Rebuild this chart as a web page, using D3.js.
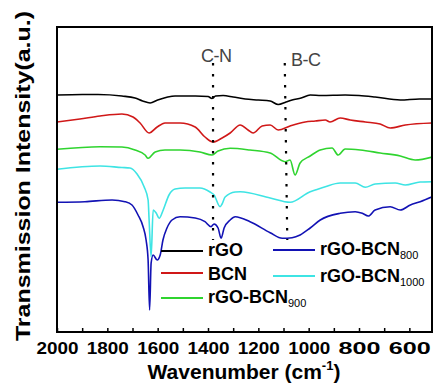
<!DOCTYPE html>
<html>
<head>
  <meta charset="utf-8">
  <script src="https://d3js.org/d3.v7.min.js"></script>
  <style>
    body { margin: 0; background: #fff; }
    text { font-family: "Liberation Sans", Arial, sans-serif; }
  </style>
</head>
<body>
  <svg width="435" height="392" id="mainsvg"></svg>
  <script>
    // [wavenumber, transmission (a.u.)]
    const rGO = [[2000,237],[1900,237.5],[1837,237.5],[1742,236],[1690,234],[1660,231],[1630,229],[1600,232],[1560,235],[1531,236],[1450,236],[1400,235.5],[1384,233.5],[1370,236],[1340,236.5],[1300,235],[1252,233],[1200,232],[1153,231],[1121,227.5],[1090,230],[1066,232],[1030,234],[994,237],[950,236.5],[855,237],[800,236.5],[736,235],[636,232],[560,233],[509,233]];
    const BCN = [[2000,210],[1909,213],[1829,216],[1742,218],[1698,215],[1670,209],[1634,199],[1602,205],[1571,209],[1511,209],[1451,205],[1412,195],[1380,190],[1344,194],[1312,199],[1272,207],[1241,202],[1221,199],[1185,206],[1153,207],[1121,202],[1074,206],[1014,210],[974,211],[934,212],[915,210],[875,214],[835,212],[775,210],[716,208],[676,204],[616,207],[509,209]];
    const BCN900 = [[2000,182.7],[1829,185.3],[1742,185],[1690,182],[1650,177],[1638,173.7],[1610,180],[1571,182],[1511,182],[1432,180],[1384,177],[1360,181],[1312,183.7],[1233,182],[1153,179],[1094,170.3],[1074,172],[1054,157],[1034,169],[994,176],[954,182],[907,184],[883,177],[855,183],[795,182],[716,179],[636,176],[577,172],[509,175]];
    const BCN1000 = [[2000,162.7],[1829,166],[1742,164.5],[1710,164],[1682,158],[1654,145.3],[1638,132],[1634,112],[1626,75.3],[1618,122],[1606,119],[1594,113.7],[1578,122],[1555,137],[1531,143],[1491,144],[1432,144],[1392,140],[1376,137],[1352,125.3],[1344,128],[1332,135],[1292,140],[1272,140.3],[1153,134],[1074,129.7],[994,140.3],[974,142],[934,145.3],[875,149],[815,149],[775,144.7],[736,148],[656,149],[616,147],[557,150],[509,150.3]];
    const BCN800 = [[2000,129.7],[1889,130.3],[1781,132],[1730,130.3],[1702,127],[1678,117],[1658,105.3],[1646,92],[1638,72],[1632,22],[1626,69],[1618,77],[1602,72],[1590,77],[1579,92],[1563,104],[1543,112],[1511,115.3],[1451,114],[1412,110.3],[1388,105.3],[1376,108],[1360,104],[1348,93.7],[1336,104],[1312,112],[1292,115.3],[1233,110.3],[1153,99.3],[1105,93.7],[1066,94.3],[1034,97],[994,104],[954,112],[875,118.7],[815,120.3],[787,118.7],[763,116],[736,122],[676,125.3],[636,122],[596,127],[557,130.3],[509,135.3]];

    const seriesNames = ['rGO', 'BCN', 'rGO-BCN900', 'rGO-BCN800', 'rGO-BCN1000'];
    const xTicks = [2000, 1800, 1600, 1400, 1200, 1000, 800, 600];
    // dotted guide lines: [label, wavenumber top, wavenumber bottom]
    const guides = [['C-N', 1380, 1380], ['B-C', 1095, 1085]];

    const svg = d3.select('#mainsvg');
    const x = d3.scaleLinear().domain([2000, 510]).range([57, 432]);
    const y = d3.scaleLinear().domain([0, 305]).range([332, 27]);

    const series = [
      { name: 'rGO', data: rGO, color: '#000000' },
      { name: 'BCN', data: BCN, color: '#d01818' },
      { name: 'rGO-BCN900', data: BCN900, color: '#2fd42f' },
      { name: 'rGO-BCN800', data: BCN800, color: '#1212b4' },
      { name: 'rGO-BCN1000', data: BCN1000, color: '#3ee4e4' }
    ];

    const line = d3.line()
      .x(d => x(d[0]))
      .y(d => y(d[1]))
      .curve(d3.curveMonotoneX);

    svg.append('clipPath').attr('id', 'clip')
      .append('rect').attr('x', 57).attr('y', 27).attr('width', 375).attr('height', 305);

    const plot = svg.append('g').attr('clip-path', 'url(#clip)');
    series.forEach(s => {
      plot.append('path')
        .attr('d', line(s.data))
        .attr('fill', 'none')
        .attr('stroke', s.color)
        .attr('stroke-width', 1.6);
    });

    // dotted guides
    guides.forEach(g => {
      svg.append('line')
        .attr('x1', x(g[1])).attr('y1', y(269))
        .attr('x2', x(g[2])).attr('y2', y(92))
        .attr('stroke', '#000')
        .attr('stroke-width', 2.2)
        .attr('stroke-dasharray', '2.5,8.5');
    });
    svg.append('text').text('C-N')
      .attr('x', 201).attr('y', 62)
      .attr('font-size', 18).attr('fill', '#444')
      .attr('letter-spacing', -0.5);
    svg.append('text').text('B-C')
      .attr('x', 291).attr('y', 66)
      .attr('font-size', 18).attr('fill', '#444')
      .attr('letter-spacing', -0.5);

    // x axis (ticks inward)
    const xAxis = d3.axisBottom(x)
      .tickValues(d3.range(2000, 509, -100))
      .tickSize(-4)
      .tickSizeOuter(0)
      .tickFormat(d => xTicks.includes(d) ? d : '');
    const ax = svg.append('g').attr('transform', 'translate(0,332)').call(xAxis);
    ax.select('.domain').remove();
    ax.selectAll('line').attr('stroke', '#000').attr('stroke-width', 1.5);
    ax.selectAll('text')
      .attr('y', 22)
      .attr('dy', 0)
      .attr('fill', '#000')
      .attr('font-size', 17)
      .attr('font-weight', 'bold')
      .attr('font-family', '"Liberation Sans", Arial, sans-serif')
      .each(function (d) { if (xTicks.includes(d)) d3.select(this).attr('textLength', 42).attr('lengthAdjust', 'spacingAndGlyphs'); });

    // frame
    svg.append('rect')
      .attr('x', 57).attr('y', 27).attr('width', 375).attr('height', 305)
      .attr('fill', 'none').attr('stroke', '#000').attr('stroke-width', 2);

    // axis titles
    const xl = svg.append('text')
      .attr('x', 244).attr('y', 379)
      .attr('text-anchor', 'middle')
      .attr('font-size', 21).attr('font-weight', 'bold');
    xl.append('tspan').text('Wavenumber (cm');
    xl.append('tspan').text('-1').attr('font-size', 13).attr('dy', -9);
    xl.append('tspan').text(')').attr('dy', 9);

    svg.append('text')
      .text('Transmission Intensity(a.u.)')
      .attr('transform', 'translate(30,176) rotate(-90)')
      .attr('text-anchor', 'middle')
      .attr('font-size', 21).attr('font-weight', 'bold')
      .attr('textLength', 330).attr('lengthAdjust', 'spacingAndGlyphs');

    // legend
    const legendPos = [
      { lx: 161, ly: 251, tx: 208, ty: 256 },
      { lx: 161, ly: 273, tx: 208, ty: 280 },
      { lx: 161, ly: 298, tx: 208, ty: 303 },
      { lx: 273, ly: 250, tx: 320, ty: 255 },
      { lx: 273, ly: 276, tx: 320, ty: 282 }
    ];
    series.forEach((s, i) => {
      const p = legendPos[i];
      svg.append('line')
        .attr('x1', p.lx).attr('x2', p.lx + 42)
        .attr('y1', p.ly).attr('y2', p.ly)
        .attr('stroke', s.color).attr('stroke-width', 2);
      const t = svg.append('text')
        .attr('x', p.tx).attr('y', p.ty)
        .attr('font-size', 18).attr('font-weight', 'bold');
      const m = seriesNames[i].match(/^(.*?BCN|rGO)(\d*)$/);
      t.append('tspan').text(m[1]);
      if (m[2]) {
        t.append('tspan').text(m[2])
          .attr('font-size', 11).attr('font-weight', 'normal').attr('dy', 4);
      }
    });
  </script>
</body>
</html>
